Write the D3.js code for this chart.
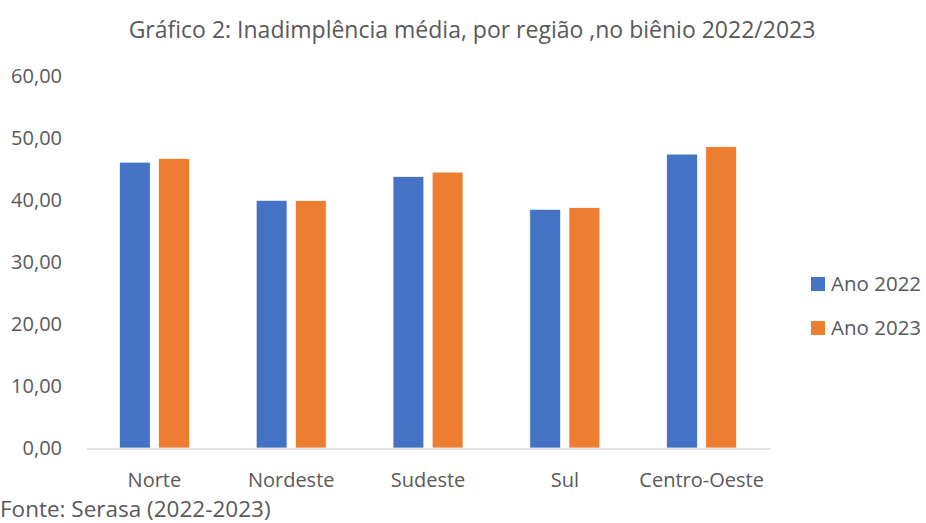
<!DOCTYPE html>
<html>
<head>
<meta charset="utf-8">
<script src="https://cdn.jsdelivr.net/npm/d3@7"></script>
<style>
  body { margin: 0; background: #fff; }
  text { font-family: "Open Sans", "Noto Sans", sans-serif; fill: #595959; }
</style>
</head>
<body>
<script>
// Chart data
var regioes = ["Norte", "Nordeste", "Sudeste", "Sul", "Centro-Oeste"];
var series = ["Ano 2022", "Ano 2023"];
var ano2022 = [46.1, 39.95, 43.8, 38.5, 47.4];
var ano2023 = [46.7, 39.9, 44.5, 38.8, 48.6];
var yTicks = [0, 10, 20, 30, 40, 50, 60];
var cores = ["#4472C4", "#ED7D31"];

var svgWidth = 926;
var svgHeight = 523;

var svg = d3.select("body")
  .append("svg")
  .attr("width", svgWidth)
  .attr("height", svgHeight);

// plot area
var plotLeft = 86, plotRight = 770, plotTop = 76, plotBottom = 448;

var x0 = d3.scaleBand()
  .domain(regioes)
  .range([plotLeft, plotRight])
  .padding(0);

var x1 = d3.scaleBand()
  .domain(series)
  .range([33.4, x0.bandwidth() - 33.4])
  .paddingInner(0.212)
  .paddingOuter(0);

var y = d3.scaleLinear()
  .domain([0, 60])
  .range([plotBottom, plotTop]);

var fmt = function(d) { return d3.format(".2f")(d).replace(".", ","); };

// y tick labels (no axis line, no gridlines)
svg.append("g")
  .selectAll("text")
  .data(yTicks)
  .enter()
  .append("text")
  .attr("x", 62)
  .attr("y", d => y(d))
  .attr("dy", "0.35em")
  .attr("text-anchor", "end")
  .style("font-size", "20px")
  .text(fmt);

// bars
var rows = regioes.map((r, i) => ({ regiao: r, vals: [ano2022[i], ano2023[i]] }));

var groups = svg.selectAll(".grupo")
  .data(rows)
  .enter()
  .append("g")
  .attr("class", "grupo")
  .attr("transform", d => `translate(${x0(d.regiao)},0)`);

groups.selectAll("rect")
  .data(d => d.vals.map((v, j) => ({ serie: series[j], v: v, j: j })))
  .enter()
  .append("rect")
  .attr("x", d => x1(d.serie))
  .attr("y", d => y(d.v))
  .attr("width", x1.bandwidth())
  .attr("height", d => y(0) - y(d.v))
  .attr("fill", d => cores[d.j])
  .attr("stroke", "#fff")
  .attr("stroke-width", 0.75);

// x axis line
var bottomAxis = d3.axisBottom(x0).tickSize(0).tickPadding(24);
var xg = svg.append("g")
  .attr("transform", `translate(0, ${plotBottom + 0.5})`)
  .call(bottomAxis);
xg.select(".domain").attr("stroke", "#d9d9d9").attr("stroke-width", 1.3);
xg.selectAll("text")
  .style("font-size", "20px")
  .style("font-family", "'Open Sans', 'Noto Sans', sans-serif")
  .attr("fill", "#595959");

// title
svg.append("text")
  .attr("x", 472)
  .attr("y", 30)
  .attr("dy", "0.35em")
  .attr("text-anchor", "middle")
  .style("font-size", "23px")
  .text("Gráfico 2: Inadimplência média, por região ,no biênio 2022/2023");

// legend
var legend = svg.selectAll(".legenda")
  .data(series)
  .enter()
  .append("g")
  .attr("class", "legenda")
  .attr("transform", (d, i) => `translate(811, ${284 + i * 44})`);

legend.append("rect")
  .attr("x", 0)
  .attr("y", -7)
  .attr("width", 14)
  .attr("height", 14)
  .attr("fill", (d, i) => cores[i]);

legend.append("text")
  .attr("x", 20)
  .attr("y", 0)
  .attr("dy", "0.35em")
  .style("font-size", "20.5px")
  .text(d => d);

// source
svg.append("text")
  .attr("x", 0)
  .attr("y", 509)
  .attr("dy", "0.35em")
  .style("font-size", "22.5px")
  .text("Fonte: Serasa (2022-2023)");
</script>
</body>
</html>
